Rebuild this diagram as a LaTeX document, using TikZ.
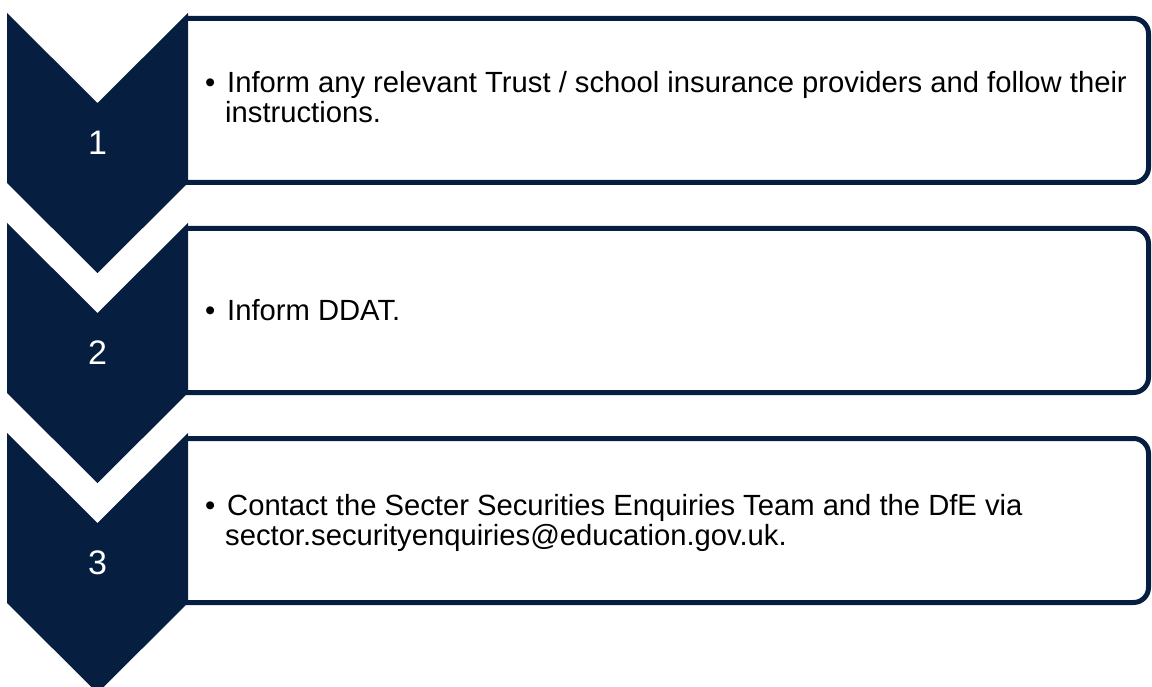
\documentclass[tikz,border=0pt]{standalone}
\usepackage{fontspec}
\setmainfont{Liberation Sans}
\usetikzlibrary{positioning}
\definecolor{navy}{HTML}{061F40}

\begin{document}
\begin{tikzpicture}[x=1pt,y=-1pt,
  chev/.style={fill=navy},
  stepbox/.style={draw=navy,line width=5pt,rounded corners=15pt},
  num/.style={text=white,inner sep=0pt,font=\fontsize{34}{40}\selectfont},
  txt/.style={anchor=base west,align=left,inner sep=0pt,font=\fontsize{29.2}{30}\selectfont}]
\useasboundingbox (0,0) rectangle (1152,687);
\draw[stepbox] (186,18.5) -- (1148.5,18.5) -- (1148.5,182.5) -- (186,182.5);
\draw[stepbox] (186,228.5) -- (1148.5,228.5) -- (1148.5,392.5) -- (186,392.5);
\draw[stepbox] (186,438.5) -- (1148.5,438.5) -- (1148.5,602.5) -- (186,602.5);
\fill[chev] (7,13) -- (97.5,103) -- (188,13) -- (188,183) -- (97.5,273) -- (7,183) -- cycle;
\fill[chev] (7,223) -- (97.5,313) -- (188,223) -- (188,393) -- (97.5,483) -- (7,393) -- cycle;
\fill[chev] (7,433) -- (97.5,523) -- (188,433) -- (188,603) -- (97.5,693) -- (7,603) -- cycle;
\node[num] (n1) at (97.5,143) {1};
\node[num] (n2) at (97.5,353) {2};
\node[num] (n3) at (97.5,563) {3};
\node[txt] (t1) at (205,123) {\makebox[22pt][l]{\textbullet}Inform any relevant Trust / school insurance providers and follow their\\\makebox[20pt]{}instructions.};
\node[txt] (t2) at (205,320) {\makebox[22pt][l]{\textbullet}Inform DDAT.};
\node[txt] (t3) at (205,545) {\makebox[22pt][l]{\textbullet}Contact the Secter Securities Enquiries Team and the DfE via\\\makebox[20pt]{}sector.securityenquiries@education.gov.uk.};
\end{tikzpicture}
\end{document}
